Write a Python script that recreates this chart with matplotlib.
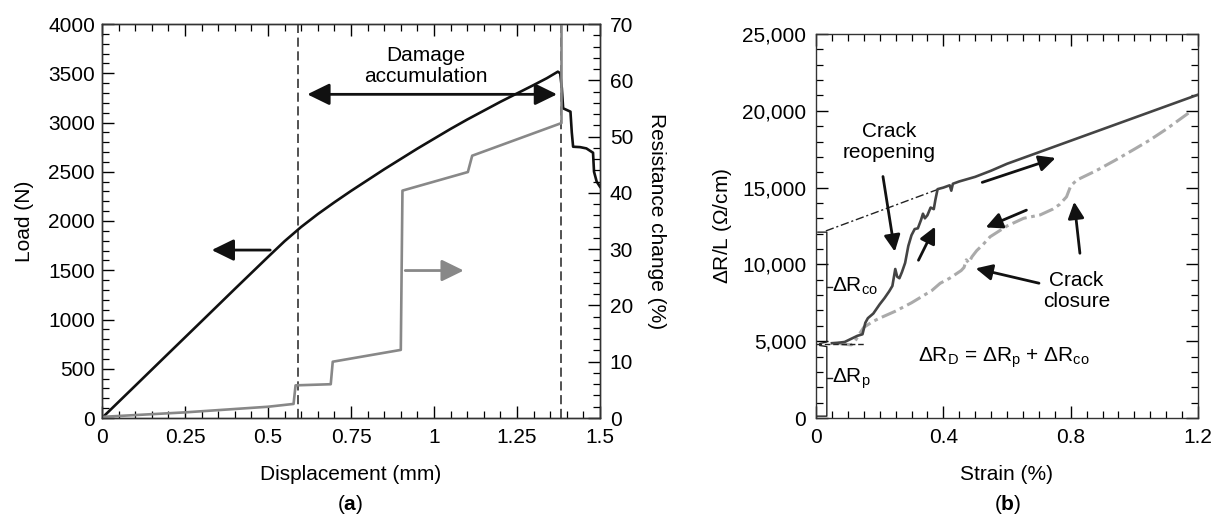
import matplotlib
matplotlib.use("Agg")
import matplotlib.pyplot as plt
from matplotlib.ticker import MultipleLocator, FuncFormatter

plt.rcParams['font.family'] = ['Liberation Sans', 'DejaVu Sans']
plt.rcParams['font.size'] = 15
plt.rcParams['mathtext.fontset'] = 'custom'
plt.rcParams['mathtext.rm'] = 'Liberation Sans'
plt.rcParams['mathtext.it'] = 'Liberation Sans'
plt.rcParams['mathtext.bf'] = 'Liberation Sans:bold'

FS = 15

# ---------------- Panel (a) data ----------------
load_x = [0, 0.1, 0.2, 0.3, 0.4, 0.5, 0.55, 0.6, 0.65, 0.7, 0.75, 0.8, 0.85, 0.9, 0.95, 1.0, 1.05,
          1.1, 1.15, 1.2, 1.25, 1.3, 1.34, 1.36, 1.373, 1.38, 1.385, 1.389, 1.411, 1.415, 1.419,
          1.44, 1.459, 1.479, 1.482, 1.49, 1.5]
load_y = [0, 327, 655, 982, 1310, 1635, 1795, 1940, 2070, 2190, 2305, 2415, 2525, 2630, 2735, 2835, 2935,
          3030, 3120, 3210, 3295, 3380, 3450, 3490, 3516, 3500, 3350, 3144, 3110, 2900, 2754,
          2750, 2737, 2693, 2500, 2400, 2348]

res_x = [0, 0.25, 0.5, 0.577, 0.583, 0.689, 0.695, 0.9, 0.905, 1.102, 1.115, 1.384, 1.384]
res_y = [0.2, 1.0, 2.0, 2.5, 5.8, 6.0, 10.0, 12.1, 40.4, 43.7, 46.6, 52.4, 75]

dash_lines_a = [0.589, 1.384]

# ---------------- Panel (b) data ----------------
open_x = [0.05, 0.07, 0.09, 0.11, 0.13, 0.146, 0.155, 0.163, 0.18, 0.2, 0.215, 0.23, 0.24, 0.249, 0.255,
          0.262, 0.27, 0.28, 0.29, 0.3, 0.31, 0.32, 0.33, 0.336, 0.342, 0.35, 0.36, 0.37, 0.375, 0.382,
          0.4, 0.42, 0.425, 0.43, 0.45, 0.5, 0.55, 0.6, 0.7, 0.8, 0.9, 1.0, 1.1, 1.2]
open_y = [4870, 4900, 4950, 5150, 5350, 5450, 6200, 6500, 6800, 7400, 7800, 8250, 8600, 9700, 9200,
          9100, 9500, 10100, 11200, 11900, 12300, 12350, 12900, 13300, 13000, 13200, 13700, 13600, 14200, 14900,
          15000, 15150, 14800, 15250, 15400, 15700, 16100, 16550, 17300, 18050, 18800, 19550, 20300, 21050]

close_x = [1.17, 1.1, 1.049, 1.0, 0.939, 0.88, 0.819, 0.8, 0.787, 0.765, 0.744, 0.704, 0.652, 0.6, 0.547,
           0.525, 0.505, 0.49, 0.48, 0.472, 0.465, 0.456, 0.42, 0.39, 0.364, 0.3, 0.249, 0.2, 0.18, 0.15,
           0.134, 0.12, 0.111, 0.09, 0.066]
close_y = [19850, 18800, 18100, 17500, 16770, 16100, 15490, 15100, 14400, 13900, 13600, 13220, 13000, 12500, 11800,
           11300, 10900, 10500, 10100, 10300, 9800, 9600, 9100, 8770, 8300, 7500, 6950, 6500, 6300, 5900,
           5400, 4900, 4760, 4800, 4870]

extrap_x = [0.031, 0.385]
extrap_y = [12180, 14900]

rp_level = 4800
rco_level = 12100

fig = plt.figure(figsize=(12.13, 5.19), dpi=100)

def style_ticks(a, **kw):
    a.tick_params(which='both', direction='in', labelsize=FS, **kw)
    a.tick_params(which='major', length=8.6, width=1)
    a.tick_params(which='minor', length=5, width=0.9)

# ================= Panel (a) =================
ax = fig.add_axes([102/1213, 1-418/519, 498/1213, 394/519])
ax2 = ax.twinx()
ax.plot(load_x, load_y, color='#111111', lw=1.9, zorder=3)
ax2.plot(res_x, res_y, color='#888888', lw=1.9, zorder=2)
for xv in dash_lines_a:
    ax.axvline(xv, color='#222222', lw=1.1, ls=(0, (6, 3)))

ax.set_xlim(0, 1.5)
ax.set_ylim(0, 4000)
ax2.set_ylim(0, 70)
ax.set_xticks([0, 0.25, 0.5, 0.75, 1.0, 1.25, 1.5])
ax.xaxis.set_major_formatter(FuncFormatter(lambda v, p: ('%g' % v)))
ax.xaxis.set_minor_locator(MultipleLocator(0.05))
ax.yaxis.set_major_locator(MultipleLocator(500))
ax.yaxis.set_minor_locator(MultipleLocator(100))
ax2.yaxis.set_major_locator(MultipleLocator(10))
ax2.yaxis.set_minor_locator(MultipleLocator(2))
style_ticks(ax, top=True, right=False)
ax.tick_params(axis='x', pad=7)
ax.tick_params(axis='y', pad=5)
style_ticks(ax2)
ax2.tick_params(axis='y', pad=7)
ax.set_xlabel('Displacement (mm)', fontsize=FS, labelpad=13)
ax.set_ylabel('Load (N)', fontsize=FS, labelpad=10)
ax2.set_ylabel('Resistance change (%)', fontsize=FS, rotation=270, va='center')
ax2.yaxis.set_label_coords(1.114, 0.5)
for a in (ax, ax2):
    for s in a.spines.values():
        s.set_color('#333333')
        s.set_linewidth(1)

big_head = dict(color='#111111', lw=2, mutation_scale=30)
ax.annotate('', xy=(0.61, 3286), xytext=(1.379, 3286),
            arrowprops=dict(arrowstyle='<|-|>,head_length=0.45,head_width=0.22', **big_head))
ax.text(0.976, 3573, 'Damage\naccumulation', ha='center', va='center', fontsize=FS, linespacing=1.15)
ax.annotate('', xy=(0.322, 1705), xytext=(0.515, 1705),
            arrowprops=dict(arrowstyle='-|>,head_length=0.45,head_width=0.22', **big_head))
ax2.annotate('', xy=(1.098, 26.2), xytext=(0.905, 26.2),
             arrowprops=dict(arrowstyle='-|>,head_length=0.45,head_width=0.22', color='#888888',
                             lw=2, mutation_scale=30))
fig.text(350/1213, 1-505/519, r'($\mathbf{a}$)', ha='center', va='center', fontsize=FS)

# ================= Panel (b) =================
bx = fig.add_axes([816/1213, 1-418/519, 382/1213, 384/519])
bx.plot(close_x, close_y, color='#aaaaaa', lw=2.2, ls=(0, (5, 1.5, 1.2, 1.5)), zorder=2)
bx.plot(open_x, open_y, color='#444444', lw=1.9, zorder=3)
bx.plot(extrap_x, extrap_y, color='#222222', lw=1.0, ls=(0, (6, 2, 1.5, 2)), zorder=2)
bx.plot([0, 0.153], [rp_level, rp_level], color='#222222', lw=1.0, ls=(0, (4, 2)), zorder=2)

# brackets
bxv = 0.034
bx.plot([0.006, bxv, bxv, 0.012], [rco_level, rco_level, rp_level + 150, rp_level + 50],
        color='#222222', lw=1.0)
bx.plot([0.012, bxv, bxv, 0.004], [rp_level - 80, rp_level - 150, 120, 120], color='#222222', lw=1.0)
bx.plot([bxv, 0.049], [8550, 8550], color='#222222', lw=1.0)
bx.plot([bxv, 0.049], [2585, 2585], color='#222222', lw=1.0)
bx.text(0.05, 8550, r'$\Delta$R$_{\mathrm{co}}$', ha='left', va='center', fontsize=FS)
bx.text(0.05, 2585, r'$\Delta$R$_{\mathrm{p}}$', ha='left', va='center', fontsize=FS)

bx.set_xlim(0, 1.2)
bx.set_ylim(0, 25000)
bx.set_xticks([0, 0.4, 0.8, 1.2])
bx.xaxis.set_major_formatter(FuncFormatter(lambda v, p: ('%g' % round(v, 2))))
bx.xaxis.set_minor_locator(MultipleLocator(0.05))
bx.yaxis.set_major_locator(MultipleLocator(5000))
bx.yaxis.set_minor_locator(MultipleLocator(1000))
bx.yaxis.set_major_formatter(FuncFormatter(lambda v, p: '{:,.0f}'.format(v)))
style_ticks(bx, top=True, right=True)
bx.tick_params(axis='x', pad=7)
bx.tick_params(axis='y', pad=7)
bx.set_xlabel('Strain (%)', fontsize=FS, labelpad=13)
bx.set_ylabel(r'$\Delta$R/L ($\Omega$/cm)', fontsize=FS, labelpad=6)
for s in bx.spines.values():
    s.set_color('#333333')
    s.set_linewidth(1)

arrow_kw = dict(arrowstyle='-|>,head_length=0.45,head_width=0.22', color='#111111', lw=2,
                mutation_scale=22)
bx.text(0.23, 17970, 'Crack\nreopening', ha='center', va='center', fontsize=FS, linespacing=1.15)
bx.annotate('', xy=(0.249, 10650), xytext=(0.209, 15900), arrowprops=arrow_kw)
bx.annotate('', xy=(0.378, 12620), xytext=(0.318, 10109), arrowprops=arrow_kw)
bx.annotate('', xy=(0.761, 16987), xytext=(0.514, 15284), arrowprops=arrow_kw)
bx.annotate('', xy=(0.525, 12336), xytext=(0.669, 13603), arrowprops=arrow_kw)
bx.text(0.818, 8253, 'Crack\nclosure', ha='center', va='center', fontsize=FS, linespacing=1.15)
bx.annotate('', xy=(0.493, 9782), xytext=(0.709, 8734), arrowprops=arrow_kw)
bx.annotate('', xy=(0.81, 14257), xytext=(0.83, 10546), arrowprops=arrow_kw)
bx.text(0.321, 3900, r'$\Delta$R$_{\mathrm{D}}$ = $\Delta$R$_{\mathrm{p}}$ + $\Delta$R$_{\mathrm{co}}$',
        ha='left', va='center', fontsize=FS)
fig.text(1008/1213, 1-505/519, r'($\mathbf{b}$)', ha='center', va='center', fontsize=FS)

fig.savefig('out.png', dpi=100)
